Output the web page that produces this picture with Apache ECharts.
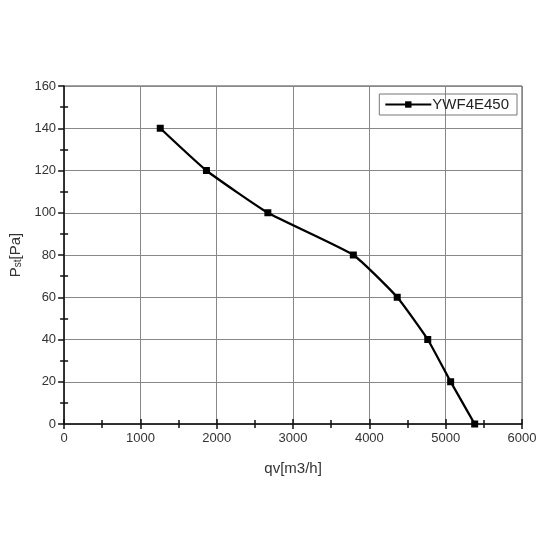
<!DOCTYPE html>
<html style="height: 100%">
<head>
<meta charset="utf-8">
<script src="https://cdn.jsdelivr.net/npm/echarts@6/dist/echarts.min.js"></script>
</head>
<body style="height: 100%; margin: 0; background: #fff">
<div id="container" style="width: 550px; height: 550px"></div>
<script type="text/javascript">
// fan curve
var flow = [1260, 1865, 2670, 3790, 4365, 4765, 5065, 5380];
var pressure = [140, 120, 100, 80, 60, 40, 20, 0];
var seriesName = 'YWF4E450';

var points = flow.map(function (q, i) { return [q, pressure[i]]; });

var myChart = echarts.init(document.getElementById('container'));
var font = 'Liberation Sans, Arial, sans-serif';
var tickStyle = { color: '#111', width: 1.5 };

// second pair of axes only draws the inner half of the ticks
function innerAxis(min, max, interval, pos, majorLen) {
    return {
        type: 'value', position: pos,
        min: min, max: max, interval: interval,
        axisLine: { show: false },
        axisTick: { show: majorLen > 0, inside: true, length: majorLen, lineStyle: tickStyle },
        minorTick: { show: true, splitNumber: 2, length: 4, lineStyle: tickStyle },
        axisLabel: { show: false },
        splitLine: { show: false }
    };
}

myChart.setOption({
    animation: false,
    backgroundColor: '#fff',
    textStyle: { fontFamily: font },
    grid: { left: 64, right: 28, top: 86, bottom: 126, show: true, borderColor: '#444', borderWidth: 1 },
    legend: {
        data: [seriesName],
        right: 33,
        top: 94,
        itemWidth: 46,
        itemHeight: 8,
        itemGap: 0,
        padding: [3, 8, 3, 5],
        borderColor: '#777',
        borderWidth: 1,
        textStyle: { fontSize: 15, color: '#222', fontFamily: font, padding: [0, 0, 0, -4] }
    },
    xAxis: [{
        type: 'value',
        min: 0, max: 6000, interval: 1000,
        name: 'qv[m3/h]',
        nameLocation: 'middle',
        nameGap: 37,
        nameTextStyle: { fontSize: 15, color: '#333' },
        axisLine: { lineStyle: { color: '#111', width: 1.5 } },
        axisTick: { length: 5, lineStyle: tickStyle },
        minorTick: { show: true, splitNumber: 2, length: 4, lineStyle: tickStyle },
        axisLabel: { fontSize: 13, color: '#333', margin: 8, formatter: function (v) { return String(v); } },
        splitLine: { show: true, lineStyle: { color: '#888', width: 1 } }
    }, innerAxis(0, 6000, 1000, 'bottom', 5)],
    yAxis: [{
        type: 'value',
        min: 0, max: 160, interval: 20,
        name: '{a|P}{b|st}{a|[Pa]}',
        nameLocation: 'middle',
        nameGap: 33,
        nameTextStyle: {
            rich: {
                a: { fontSize: 15, color: '#333', fontFamily: font },
                b: { fontSize: 10, color: '#333', fontFamily: font, padding: [6, 0, 0, 0] }
            }
        },
        axisLine: { lineStyle: { color: '#111', width: 1.5 } },
        axisTick: { length: 6, lineStyle: tickStyle },
        minorTick: { show: true, splitNumber: 2, length: 4, lineStyle: tickStyle },
        axisLabel: { fontSize: 13, color: '#333', margin: 8 },
        splitLine: { show: true, lineStyle: { color: '#888', width: 1 } }
    }, innerAxis(0, 160, 20, 'left', 0)],
    series: [{
        name: seriesName,
        type: 'line',
        data: points,
        smooth: 0.15,
        symbol: 'rect',
        symbolSize: 7,
        itemStyle: { color: '#000' },
        lineStyle: { color: '#000', width: 2.3 }
    }]
});
</script>
</body>
</html>
